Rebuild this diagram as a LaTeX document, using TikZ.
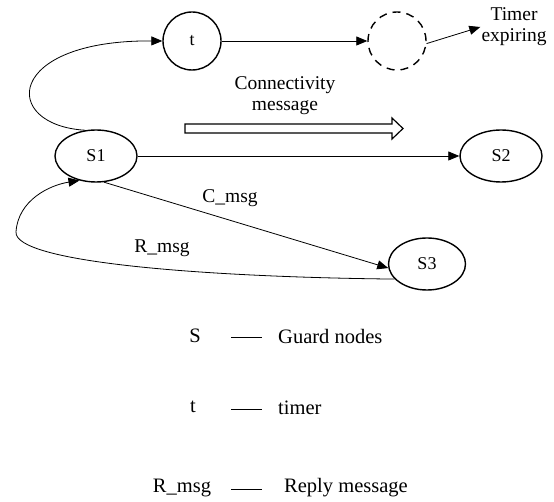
\documentclass[tikz,border=0pt]{standalone}
\usepackage{fontspec}
\setmainfont{Liberation Serif}
\usetikzlibrary{arrows.meta,shapes.geometric}
\tikzset{
  state/.style={draw, ellipse, line width=1.4pt, inner sep=0pt,
    minimum width=82pt, minimum height=52pt, font=\fontsize{18}{20}\selectfont},
  timerstate/.style={draw, circle, line width=1.4pt, inner sep=0pt,
    minimum size=58pt, font=\fontsize{18}{20}\selectfont},
  link/.style={line width=0.8pt, -{Triangle[length=11pt,width=9pt]}},
  lbl/.style={font=\fontsize{19.5}{23}\selectfont, inner sep=1pt},
  legend/.style={font=\fontsize{20.5}{23}\selectfont, inner sep=0pt},
}
\begin{document}
\begin{tikzpicture}[x=1pt,y=-1pt]
\useasboundingbox (0,0) rectangle (554,502);

% nodes
\node[timerstate] (t) at (192,41) {t};
\node[timerstate, dashed, dash pattern=on 8pt off 6pt] (d) at (397,41) {};
\node[state] (s1) at (96,156) {S1};
\node[state] (s2) at (501,156) {S2};
\node[state, minimum width=77pt] (s3) at (427,264) {S3};

\node[lbl, align=center] (te) at (514,27) {Timer\\[-2pt]expiring};
\node[lbl, align=center] (cm) at (285,96) {Connectivity\\[-2pt]message};

% hollow arrow for the connectivity message
\draw[line width=1.2pt, line join=miter]
  (185,124) -- (392,124) -- (392,118) -- (403,128.5) -- (392,139)
  -- (392,133) -- (185,133) -- cycle;

% connectors
\draw[link] (t.east) -- (d.west);
\draw[link] (d.-5) -- (te.west);
\draw[link] (s1.east) -- (s2.west);
\draw[link] (s1.113) .. controls (0,125) and (5,40) .. (t.west);
\draw[link] (s1.287) -- (s3.186);
\node[lbl] (clabel) at (230,198) {C\_msg};
\draw[link] (s3.205) .. controls (200,277) and (14,262) .. (16,232)
  .. controls (18,200) and (50,185) .. (s1.236);
\node[lbl] (rlabel) at (162,248) {R\_msg};

% legend
\node[legend] (k1) at (195,336) {S};
\node[legend, anchor=west] (v1) at (278,336) {Guard nodes};
\node[legend] (k2) at (193,407) {t};
\node[legend, anchor=west] (v2) at (278,408) {timer};
\node[legend] (k3) at (182,488) {R\_msg};
\node[legend, anchor=west] (v3) at (284,488) {Reply message};
\foreach \yy in {337,409,489}
  \draw[line width=0.9pt] (231,\yy) -- (262,\yy);
\end{tikzpicture}
\end{document}
